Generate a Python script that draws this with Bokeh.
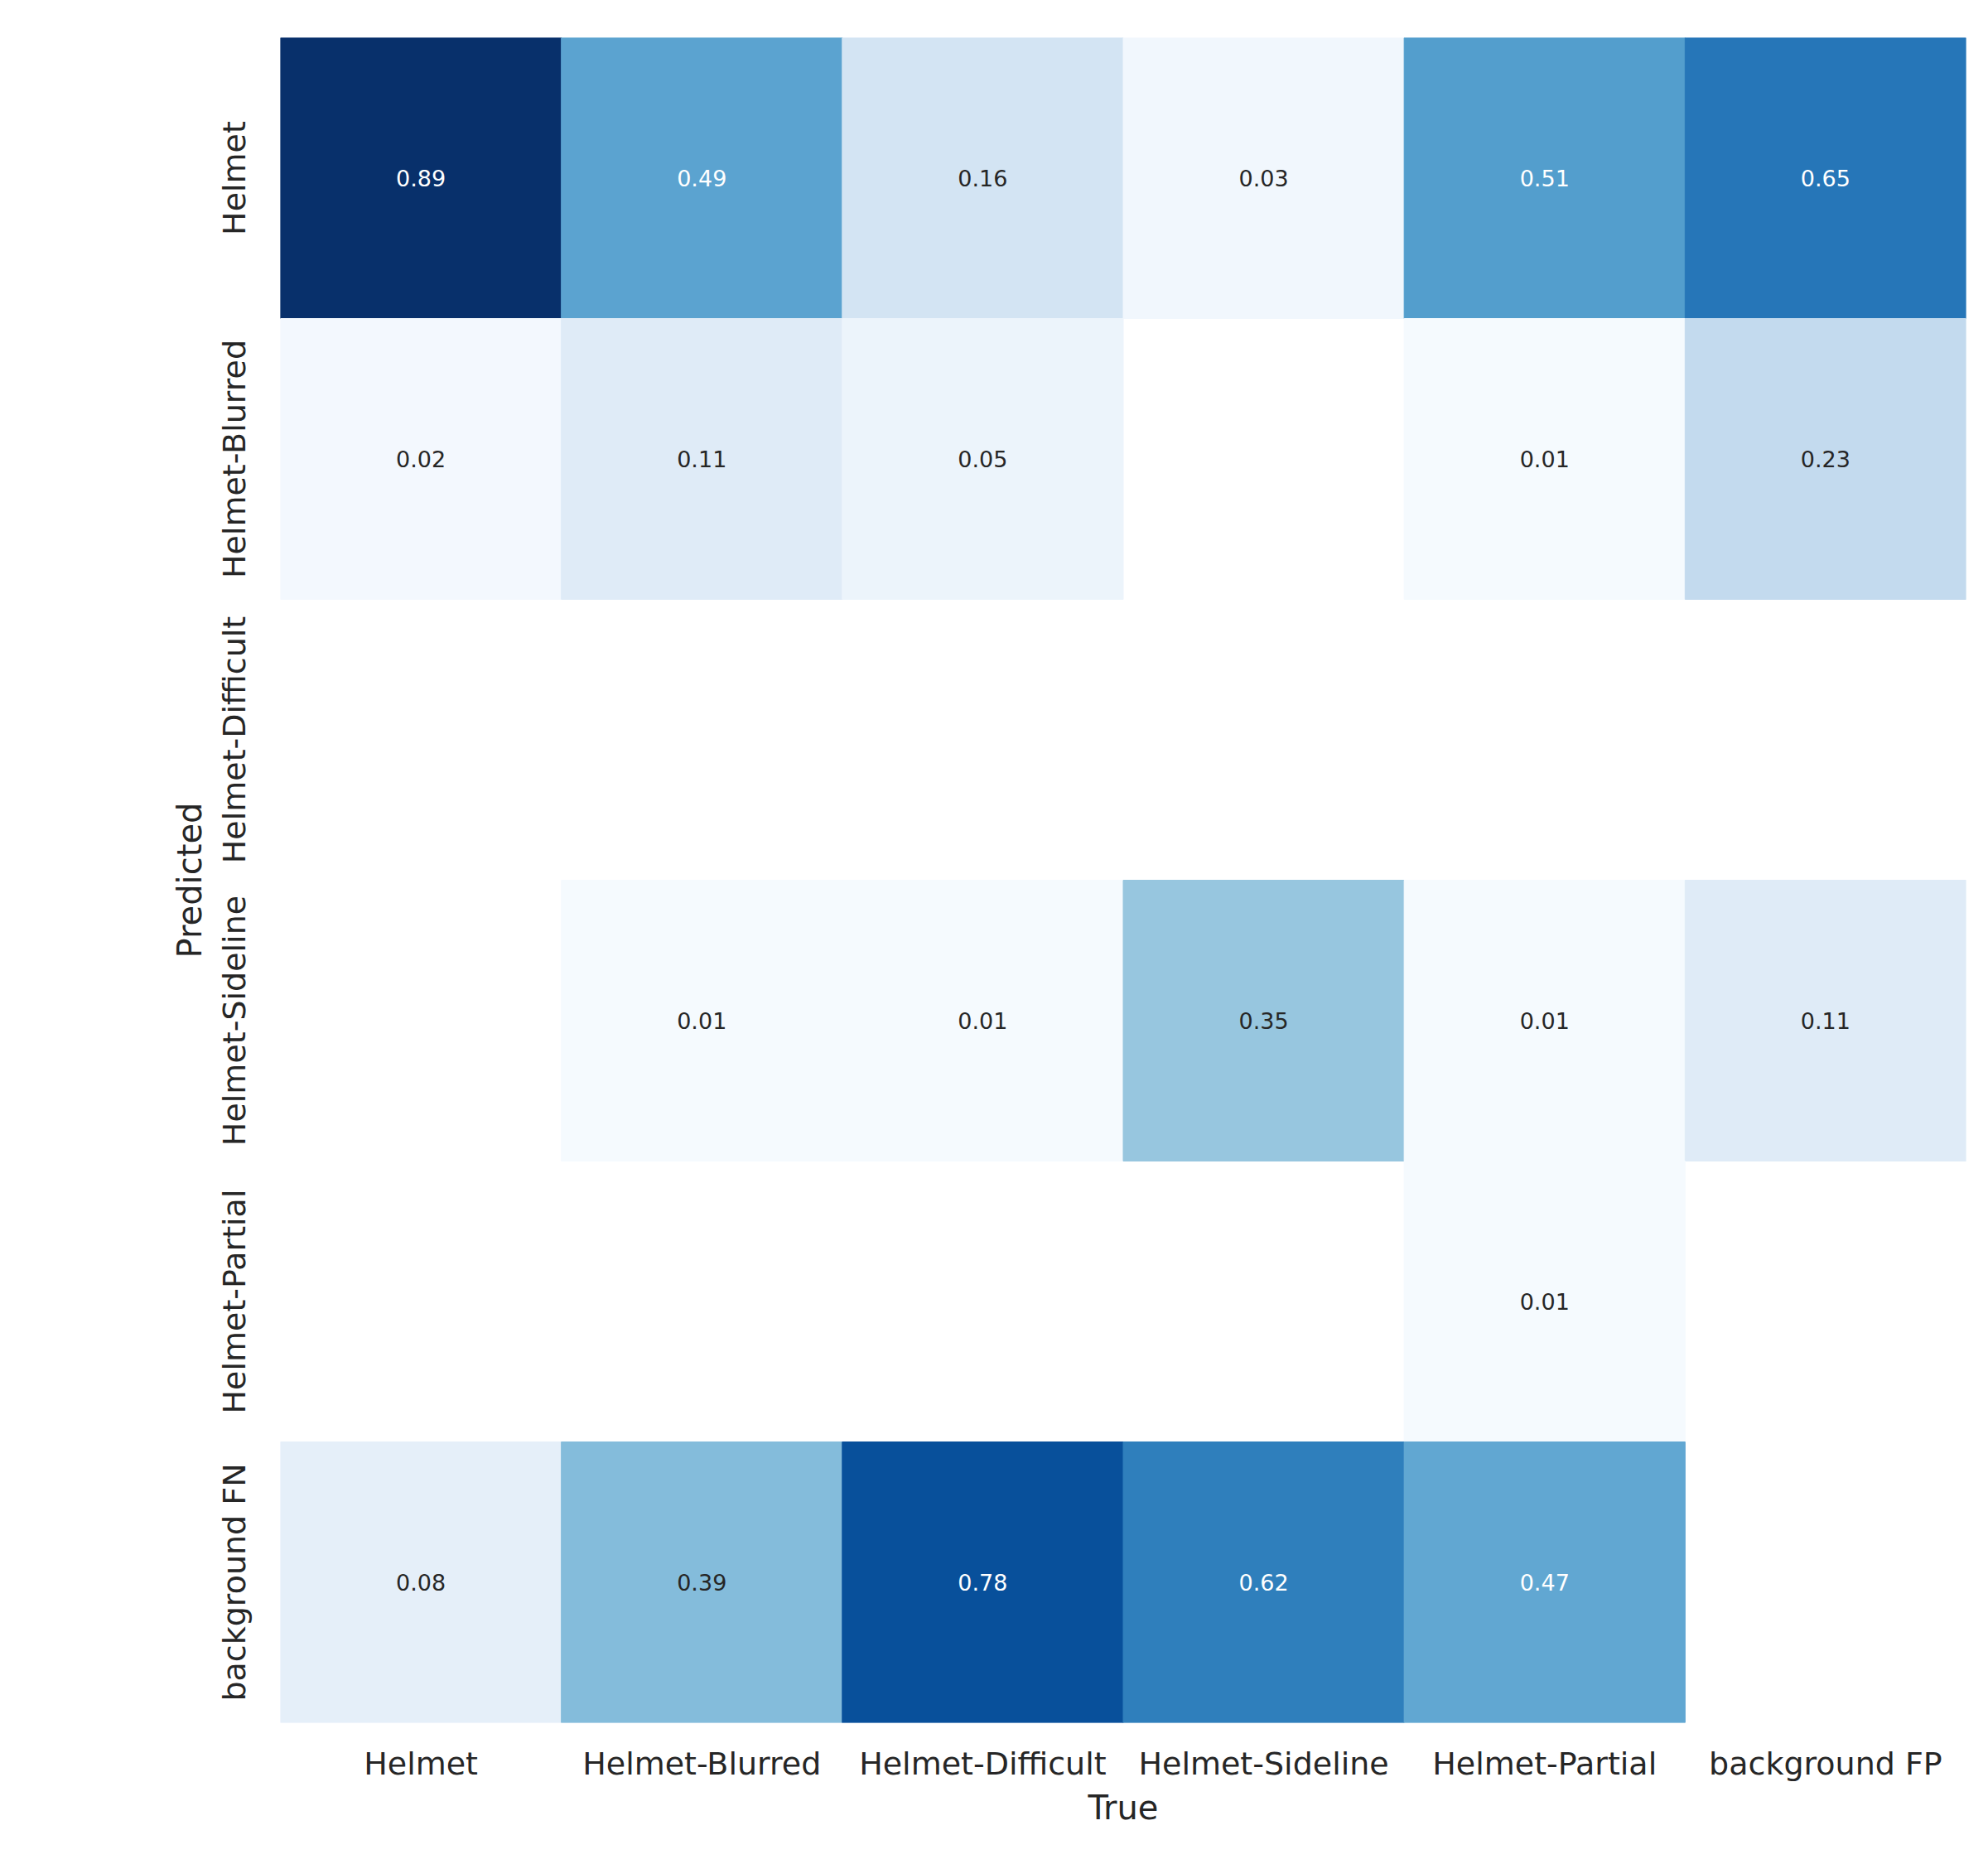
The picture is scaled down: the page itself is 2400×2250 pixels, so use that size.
import math
from bokeh.plotting import figure
from bokeh.models import LinearColorMapper, ColumnDataSource, FactorRange
from bokeh.transform import transform
from bokeh.palettes import Blues256
from bokeh.core.properties import value
from bokeh.embed import file_html
from bokeh.resources import INLINE

true_labels = ["Helmet", "Helmet-Blurred", "Helmet-Difficult", "Helmet-Sideline", "Helmet-Partial", "background FP"]
pred_labels = ["Helmet", "Helmet-Blurred", "Helmet-Difficult", "Helmet-Sideline", "Helmet-Partial", "background FN"]

# rows = predicted, columns = true; None = blank cell
row_helmet = [0.89, 0.49, 0.16, 0.03, 0.51, 0.65]
row_blurred = [0.02, 0.11, 0.05, None, 0.01, 0.23]
row_difficult = [None, None, None, None, None, None]
row_sideline = [None, 0.01, 0.01, 0.35, 0.01, 0.11]
row_partial = [None, None, None, None, 0.01, None]
row_bg_fn = [0.08, 0.39, 0.78, 0.62, 0.47, None]
rows = [row_helmet, row_blurred, row_difficult, row_sideline, row_partial, row_bg_fn]

# palette light -> dark
pal = list(Blues256)
def _lum_hex(h):
    r, g, b = int(h[1:3], 16) / 255, int(h[3:5], 16) / 255, int(h[5:7], 16) / 255
    def lin(c):
        return c / 12.92 if c <= 0.03928 else ((c + 0.055) / 1.055) ** 2.4
    return 0.2126 * lin(r) + 0.7152 * lin(g) + 0.0722 * lin(b)
if _lum_hex(pal[0]) < _lum_hex(pal[-1]):
    pal = pal[::-1]

all_vals = [v for r in rows for v in r if v is not None]
vmin, vmax = 0.0, max(all_vals)
mapper = LinearColorMapper(palette=pal, low=vmin, high=vmax)

xs, ys, vs, txt, tcol = [], [], [], [], []
for pl, r in zip(pred_labels, rows):
    for tl, v in zip(true_labels, r):
        if v is None:
            continue
        xs.append(tl); ys.append(pl); vs.append(v); txt.append(f"{v:.2f}")
        idx = min(len(pal) - 1, int((v - vmin) / (vmax - vmin) * len(pal)))
        tcol.append("#262626" if _lum_hex(pal[idx]) > 0.408 else "#ffffff")

src = ColumnDataSource(dict(x=xs, y=ys, v=vs, t=txt, c=tcol))

p = figure(
    width=2384, height=2234, output_backend="svg", toolbar_location=None,
    x_range=FactorRange(*true_labels), y_range=FactorRange(*pred_labels[::-1]),
    min_border_left=338, min_border_right=11, min_border_top=45, min_border_bottom=155,
)
p.frame_width = 2035
p.frame_height = 2034

p.rect(x="x", y="y", width=1, height=1, source=src,
       fill_color=transform("v", mapper), line_color=transform("v", mapper), line_width=1)
p.text(x="x", y="y", text="t", source=src, text_color="c",
       text_align="center", text_baseline="middle", text_font_size="27px",
       text_font=value("DejaVu Sans"))

p.outline_line_color = None
p.grid.grid_line_color = None
p.background_fill_color = "white"
p.border_fill_color = "white"

for ax in (p.xaxis[0], p.yaxis[0]):
    ax.axis_line_color = None
    ax.major_tick_line_color = None
    ax.minor_tick_line_color = None
    ax.major_label_text_font = "DejaVu Sans"
    ax.major_label_text_font_size = "38px"
    ax.major_label_text_color = "#262626"
    ax.axis_label_text_font = "DejaVu Sans"
    ax.axis_label_text_font_size = "40px"
    ax.axis_label_text_font_style = "normal"
    ax.axis_label_text_color = "#262626"

p.xaxis.axis_label = "True"
p.yaxis.axis_label = "Predicted"
p.xaxis.major_label_standoff = 21
p.yaxis.major_label_standoff = 28
p.yaxis.major_label_orientation = "vertical"
p.xaxis.axis_label_standoff = 5
p.yaxis.axis_label_standoff = 6

open("out.html", "w").write(file_html(p, INLINE))
